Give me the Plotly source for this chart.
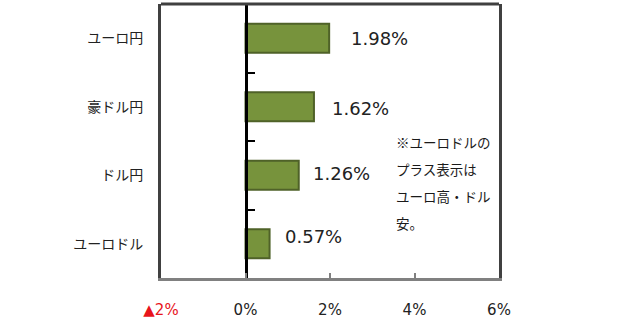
import plotly.graph_objects as go

# Data (top-to-bottom order as shown)
categories = ["ユーロ円", "豪ドル円", "ドル円", "ユーロドル"]
values = [1.98, 1.62, 1.26, 0.57]
value_labels = ["1.98%", "1.62%", "1.26%", "0.57%"]
tick_vals = [-2, 0, 2, 4, 6]
tick_text = ["<span style='color:#e8141b'>▲2%</span>", "0%", "2%", "4%", "6%"]
note_lines = ["※ユーロドルの", "プラス表示は", "ユーロ高・ドル", "安。"]

# style-only tweaks for label placement (pixels)
label_xshift = [20, 16, 12, 13]
label_yshift = [0, -2, 2, 7]
note_y = [0.496, 0.396, 0.30, 0.20]

cats_bottom_up = categories[::-1]
vals_bottom_up = values[::-1]

JP = "Noto Sans CJK JP"
NUM = "DejaVu Sans"

fig = go.Figure()
fig.add_trace(go.Bar(
    y=cats_bottom_up, x=vals_bottom_up, orientation="h",
    marker=dict(color="#77933C", line=dict(color="#4F6228", width=2)),
    width=0.42, hoverinfo="skip", showlegend=False,
))
# invisible helper trace so the zero-position axis renders
fig.add_trace(go.Scatter(
    y=cats_bottom_up, x=[0] * len(cats_bottom_up), yaxis="y2",
    mode="markers", marker=dict(opacity=0), hoverinfo="skip", showlegend=False,
))

for cat, v, lab, xs, ys in zip(categories, values, value_labels, label_xshift, label_yshift):
    fig.add_annotation(x=v, y=cat, text=lab, showarrow=False, xanchor="left",
                       xshift=xs, yshift=ys,
                       font=dict(family=NUM, size=18, color="#222222"))

for line, yy in zip(note_lines, note_y):
    fig.add_annotation(xref="paper", yref="paper", x=0.689, y=yy, text=line,
                       showarrow=False, xanchor="left", yanchor="middle",
                       font=dict(family=JP, size=13.5, color="#1a1a1a"))

fig.update_layout(
    width=640, height=323,
    margin=dict(l=161, r=141, t=4, b=39),
    paper_bgcolor="white", plot_bgcolor="white",
    xaxis=dict(range=[-2, 6], tickvals=tick_vals, ticktext=tick_text,
               showgrid=False, zeroline=False,
               showline=True, linecolor="#808080", linewidth=3,
               ticks="inside", ticklen=5, tickwidth=2, tickcolor="#808080",
               ticklabelstandoff=16,
               tickfont=dict(family=NUM, size=15, color="#222222")),
    yaxis=dict(type="category", categoryarray=cats_bottom_up, range=[-0.5, 3.5],
               showgrid=False, zeroline=False,
               showline=True, mirror=True, linecolor="#404040", linewidth=3,
               ticks="", ticklabelstandoff=12,
               tickfont=dict(family=JP, size=14, color="#222222")),
    yaxis2=dict(type="category", categoryarray=cats_bottom_up, range=[-0.5, 3.5],
                overlaying="y", anchor="free", position=0.25, side="left",
                showgrid=False, zeroline=False, showticklabels=False,
                showline=True, linecolor="black", linewidth=3,
                ticks="inside", tickson="boundaries", ticklen=7, tickwidth=2,
                tickcolor="black"),
    shapes=[dict(type="line", xref="paper", yref="paper", x0=0, x1=1, y0=1, y1=1,
                 line=dict(color="#404040", width=3), layer="above")],
    bargap=0.5,
)

fig.write_html("out.html")
